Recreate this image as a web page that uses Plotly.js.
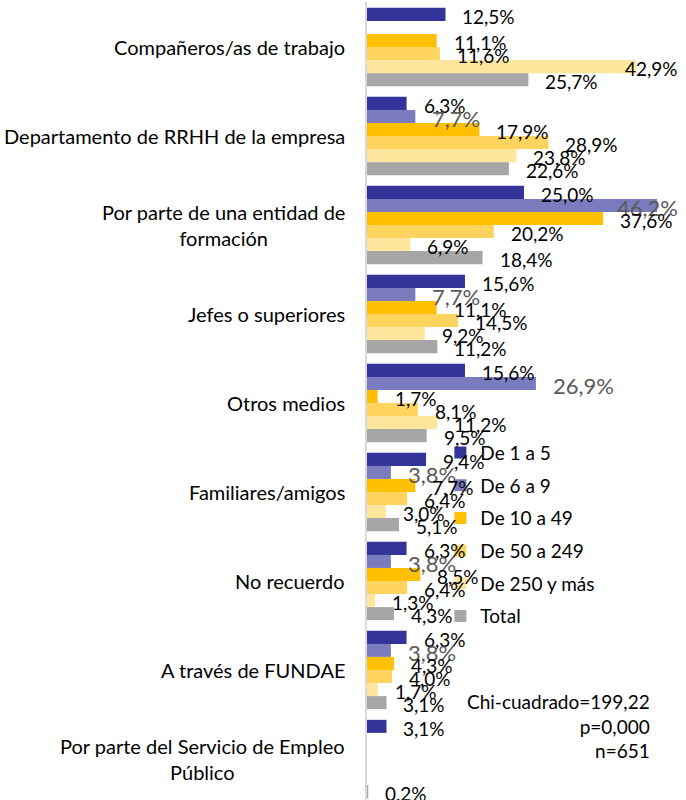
<!DOCTYPE html>
<html>
<head>
<meta charset="utf-8">
<script src="https://cdn.plot.ly/plotly-3.0.1.min.js"></script>
<style>
  html, body { margin: 0; padding: 0; background: #fff; overflow: hidden; }
  #chart { width: 686px; height: 800px; }
</style>
</head>
<body>
<div id="chart"></div>
<script>
// categorias (de arriba a abajo)
const categorias = [
  "Compañeros/as de trabajo",
  "Departamento de RRHH de la empresa",
  "Por parte de una entidad de<br>formación",
  "Jefes o superiores",
  "Otros medios",
  "Familiares/amigos",
  "No recuerdo",
  "A través de FUNDAE",
  "Por parte del Servicio de Empleo<br>Público"
];

const series = ["De 1 a 5", "De 6 a 9", "De 10 a 49", "De 50 a 249", "De 250 y más", "Total"];
const colores = ["#333399", "#7B7BBF", "#FFC000", "#FFD45E", "#FFE69C", "#A6A6A6"];

const de1a5    = [12.5, 6.3, 25.0, 15.6, 15.6, 9.4, 6.3, 6.3, 3.1];
const de6a9    = [null, 7.7, 46.2, 7.7, 26.9, 3.8, 3.8, 3.8, null];
const de10a49  = [11.1, 17.9, 37.6, 11.1, 1.7, 7.7, 8.5, 4.3, null];
const de50a249 = [11.6, 28.9, 20.2, 14.5, 8.1, 6.4, 6.4, 4.0, null];
const de250    = [42.9, 23.8, 6.9, 9.2, 11.2, 3.0, 1.3, 1.7, null];
const total    = [25.7, 22.6, 18.4, 11.2, 9.5, 5.1, 4.3, 3.1, 0.2];

const valores = [de1a5, de6a9, de10a49, de50a249, de250, total];

const nota = "Chi-cuadrado=199,22<br>p=0,000<br>n=651";

const FONT = "Lato, 'Open Sans', sans-serif";
const H = 800, mTop = 2, mBot = 0, mLeft = 367, mRight = 0;
const yRange = [8.461, -0.506];
const bargap = 0.12;
const catPx = (H - mTop - mBot) / (yRange[0] - yRange[1]);
const barPx = catPx * (1 - bargap) / series.length;

const fmt = v => v.toFixed(1).replace(".", ",") + "%";

let traces = series.map((s, i) => ({
  type: "bar",
  orientation: "h",
  name: s,
  x: valores[i],
  y: categorias,
  marker: { color: colores[i] },
  legendgroup: "g" + i,
  hoverinfo: "skip"
}));

let anotaciones = [];
// etiquetas de categoria
categorias.forEach(c => {
  anotaciones.push({
    text: c, x: 0, xref: "paper", y: c, yref: "y",
    xanchor: "right", yanchor: "middle", xshift: -20, align: "center",
    showarrow: false, font: { family: FONT, size: 20, color: "#000" }
  });
});
// etiquetas de datos
valores.forEach((arr, i) => {
  arr.forEach((v, j) => {
    if (v === null) return;
    const gris = i === 1;
    const a = {
      text: fmt(v), y: categorias[j], yref: "y",
      yanchor: "middle", yshift: (2.5 - i) * barPx - 2,
      showarrow: false,
      font: { family: FONT, size: gris ? 22 : 19, color: gris ? "#595959" : "#000" }
    };
    if (v > 40) {
      a.x = 1; a.xref = "paper"; a.xanchor = "right"; a.xshift = -6;
    } else {
      a.x = v; a.xref = "x"; a.xanchor = "left"; a.xshift = 15;
    }
    anotaciones.push(a);
  });
});
anotaciones.push({
  text: nota, x: 0.893, xref: "paper", y: 0.093, yref: "paper",
  xanchor: "right", yanchor: "middle", align: "right", showarrow: false,
  font: { family: FONT, size: 19, color: "#000" }
});

const layout = {
  width: 686, height: H,
  margin: { l: mLeft, r: mRight, t: mTop, b: mBot, pad: 0 },
  paper_bgcolor: "#fff", plot_bgcolor: "#fff",
  barmode: "group", bargap: bargap, bargroupgap: 0,
  font: { family: FONT, size: 19, color: "#000" },
  xaxis: { range: [0, 50.8], showgrid: false, zeroline: false, showticklabels: false, showline: false, fixedrange: true },
  yaxis: {
    type: "category", range: yRange, showgrid: false, zeroline: false,
    showticklabels: false, showline: true, linecolor: "#D9D9D9", linewidth: 2, ticks: ""
  },
  showlegend: true,
  legend: {
    x: 0.23, y: 0.459, xanchor: "left", yanchor: "top",
    traceorder: "grouped", tracegroupgap: 5, itemwidth: 30,
    bgcolor: "rgba(0,0,0,0)", font: { family: FONT, size: 19, color: "#000" }
  },
  annotations: anotaciones
};

Plotly.newPlot("chart", traces, layout, { displayModeBar: false, staticPlot: true });
</script>
</body>
</html>
